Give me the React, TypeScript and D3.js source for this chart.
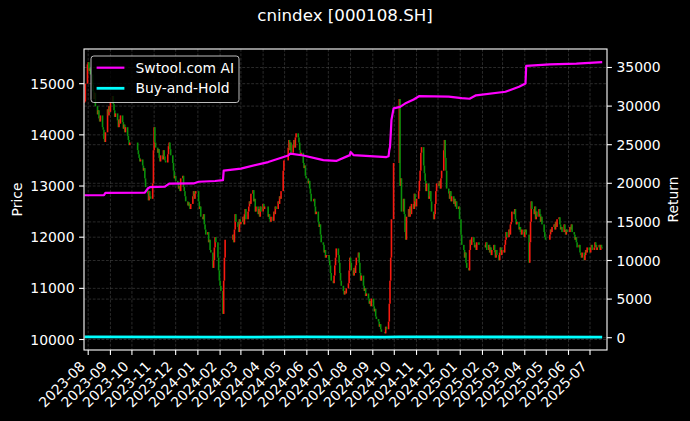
import React from 'react';
import * as d3 from 'd3';

// ---------- data ----------
const title = 'cnindex [000108.SH]';
const firstDay = '2023-07-27';
const lastDay = '2025-07-18';
const holidays = [
  '2023-09-29', '2023-10-02', '2023-10-03', '2023-10-04', '2023-10-05', '2023-10-06',
  '2024-01-01', '2024-02-09', '2024-02-12', '2024-02-13', '2024-02-14', '2024-02-15', '2024-02-16',
  '2024-04-04', '2024-04-05', '2024-05-01', '2024-05-02', '2024-05-03', '2024-06-10',
  '2024-09-16', '2024-09-17', '2024-10-01', '2024-10-02', '2024-10-03', '2024-10-04', '2024-10-07',
  '2025-01-01', '2025-01-28', '2025-01-29', '2025-01-30', '2025-01-31', '2025-02-03', '2025-02-04',
  '2025-04-04', '2025-05-01', '2025-05-02', '2025-05-05', '2025-06-02',
];

const closes2023 = [
  14650, 15000, 15380,
  15420, 15250, 15300, 15180, 14980, 14850, 14700, 14820, 14560, 14400, 14480, 14320, 14260, 14380, 14150, 14100, 13920, 13860, 14050, 14500, 14380, 14560, 14450,
  14650, 14760, 14600, 14480, 14350, 14420, 14280, 14150, 14300, 14220, 14380, 14250, 14120, 14200, 14050, 14150, 13980, 13900, 13800, 13850,
  13700, 13620, 13550, 13480, 13520, 13400, 13300, 13350, 13150, 12980, 12850, 12720, 12900, 12800, 12750, 13050, 13700,
  14150, 13850, 13750, 13650, 13720, 13550, 13480, 13600, 13520, 13700, 13580, 13500, 13460, 13620, 13780, 13850, 13720, 13600, 13450, 13300, 13150, 13200,
  13100, 13050, 12950, 13000, 12900, 13150, 13200, 12980, 12900, 12800, 12700, 12620, 12680, 12600, 12550, 12650, 12800, 12900, 12750, 12850, 12900,
];
const closes2024 = [
  12700, 12550, 12600, 12400, 12350, 12450, 12250, 12150, 12050, 12100, 11900, 11950, 11750, 11700, 11400, 11550, 11800, 12000, 11900, 11600, 11350, 11150,
  11050, 10950, 10500, 11150, 11600, 11950, 12050, 11900, 12150, 12450, 12300, 12200, 12100, 12350, 12250,
  12300, 12400, 12250, 12450, 12550, 12350, 12500, 12600, 12700, 12650, 12850, 12920, 12700, 12750, 12500, 12600, 12450, 12550, 12400, 12600, 12500,
  12650, 12550, 12600, 12400, 12450, 12350, 12300, 12400, 12320, 12500, 12450, 12600, 12550, 12700, 12650, 12800, 12750, 12900, 13300, 13500,
  13750, 13900, 13700, 13850, 13650, 13800, 13900, 13750, 13950, 14030, 13950, 13850, 13700, 13600, 13650, 13450, 13350, 13400, 13200, 13150,
  13050, 13100, 12950, 12850, 12700, 12750, 12600, 12450, 12500, 12300, 12200, 12250, 12050, 11900, 11850, 11700, 11750, 11600, 11650,
  11650, 11550, 11450, 11300, 11150, 11100, 11250, 11450, 11600, 11780, 11650, 11500, 11300, 11150, 11050, 10950, 10880, 10950, 10900, 11000, 11100, 11350, 11600,
  11500, 11350, 11250, 11400, 11300, 11450, 11600, 11700, 11500, 11300, 11150, 11250, 11050, 10950, 11000, 10850, 10900, 10800, 10700, 10750, 10650, 10800,
  10650, 10550, 10600, 10450, 10400, 10350, 10250, 10300, 10200, 10150, 10120, 10250, 10200, 10350, 10700, 11150, 11600, 12350, 13450,
  14700, 13000, 13150, 12500, 12750, 12450, 12100, 11950, 12400, 12550, 12400, 12600, 12450, 12650, 12550, 12850, 12700, 12600,
  12750, 12900, 13100, 13300, 13650, 13760, 13400, 13250, 13100, 12900, 13050, 12750, 12800, 12900, 12700, 12500, 12350, 12450, 12650, 12900, 13050,
  13000, 13100, 12950, 13150, 13300, 13700, 13900, 13550, 13300, 12950, 12850, 12750, 12900, 12700, 12800, 12650, 12750, 12600, 12700, 12550, 12600, 12350,
];
const closes2025 = [
  12050, 11850, 11750, 11600, 11700, 11500, 11400, 11350, 11750, 11950, 11850, 12000, 11900, 11800, 11850, 11750, 11900, 11850,
  11800, 11900, 11750, 11850, 11700, 11800, 11650, 11750, 11850, 11700, 11600, 11750, 11650, 11550, 11700, 11800, 11650, 11750,
  11700, 11850, 11950, 12100, 12000, 12150, 12050, 12250, 12300, 12500, 12450, 12550, 12350, 12250, 12300, 12150, 12200, 12100, 12050, 12150, 12000,
  12100, 12150, 12050, 11500, 11900, 12300, 12700, 12550, 12450, 12600, 12350, 12500, 12400, 12550, 12450, 12300, 12400, 12250, 12100, 12000, 11950,
  12050, 12150, 12100, 12200, 12250, 12150, 12300, 12200, 12350, 12390, 12250, 12150, 12200, 12100, 12250, 12150, 12050, 12150, 12100,
  12200, 12150, 12250, 12100, 12050, 11950, 12000, 11900, 11800, 11850, 11700, 11650, 11600, 11700, 11550, 11650, 11750, 11700, 11800, 11750,
  11700, 11800, 11850, 11750, 11800, 11900, 11850, 11750, 11800, 11850, 11750, 11850, 11800, 11780,
];

const strategyReturn: [string, number][] = [
  ['2023-07-27', 18450], ['2023-08-23', 18480], ['2023-08-25', 18760], ['2023-10-19', 18780],
  ['2023-10-23', 19300], ['2023-10-26', 19500], ['2023-11-16', 19560], ['2023-11-22', 19950],
  ['2023-12-26', 19980], ['2024-01-02', 20200], ['2024-01-25', 20300], ['2024-02-05', 20400],
  ['2024-02-06', 21650], ['2024-03-01', 21900], ['2024-04-08', 22750], ['2024-05-06', 23600],
  ['2024-05-09', 23850], ['2024-05-27', 23600], ['2024-06-24', 23000], ['2024-07-12', 22900],
  ['2024-07-31', 23650], ['2024-08-01', 24050], ['2024-08-05', 23650], ['2024-09-20', 23400],
  ['2024-09-23', 23500], ['2024-09-24', 24300], ['2024-09-25', 24700], ['2024-09-26', 26300],
  ['2024-09-27', 28200], ['2024-09-30', 29700], ['2024-10-09', 29900], ['2024-10-16', 30330],
  ['2024-10-28', 30850], ['2024-11-05', 31300], ['2024-12-16', 31230], ['2025-01-03', 31030],
  ['2025-01-14', 30950], ['2025-01-23', 31400], ['2025-03-05', 31860], ['2025-03-24', 32500],
  ['2025-04-02', 32930], ['2025-04-03', 35200], ['2025-05-06', 35400], ['2025-06-12', 35500],
  ['2025-07-18', 35700],
];
const buyHoldReturn: [string, number][] = [
  ['2023-07-27', 100], ['2023-08-01', 104], ['2024-02-05', 71], ['2024-05-20', 95],
  ['2024-09-18', 69], ['2024-10-08', 100], ['2025-07-18', 80],
];

const priceTicks = [10000, 11000, 12000, 13000, 14000, 15000];
const returnTicks = [0, 5000, 10000, 15000, 20000, 25000, 30000, 35000];
const monthTicks = [
  '2023-08', '2023-09', '2023-10', '2023-11', '2023-12', '2024-01', '2024-02', '2024-03',
  '2024-04', '2024-05', '2024-06', '2024-07', '2024-08', '2024-09', '2024-10', '2024-11',
  '2024-12', '2025-01', '2025-02', '2025-03', '2025-04', '2025-05', '2025-06', '2025-07',
];
const seriesNames = ['Swtool.com AI', 'Buy-and-Hold'];

// ---------- layout ----------
const W = 690;
const H = 421;
const L = 84;
const R = 607;
const T = 49;
const B = 350;
const FONT = 'DejaVu Sans, Liberation Sans, sans-serif';
const UP = '#f81a10';
const DOWN = '#0a900a';
const MAGENTA = '#ff00ff';
const CYAN = '#00ffff';

export default function App() {
  const parse = d3.timeParse('%Y-%m-%d');
  const fmt = d3.timeFormat('%Y-%m-%d');
  const hol = new Set(holidays);
  const start = parse(firstDay) as Date;
  const end = parse(lastDay) as Date;
  const days = d3.timeDay
    .range(start, d3.timeDay.offset(end, 1))
    .filter((d) => d.getDay() !== 0 && d.getDay() !== 6 && !hol.has(fmt(d)));
  const closes = [...closes2023, ...closes2024, ...closes2025];
  const n = Math.min(days.length, closes.length);

  const x = d3
    .scaleTime()
    .domain([new Date(2023, 6, 26, 3, 20), new Date(2025, 6, 24, 17, 0)])
    .range([L, R]);
  const yP = d3.scaleLinear().domain([9795, 15678]).range([B, T]);
  const yR = d3.scaleLinear().domain([-1593, 37396]).range([B, T]);

  const candles = d3.range(n).map((i) => {
    const c = closes[i];
    const o = i > 0 ? closes[i - 1] : c;
    return { d: days[i], o, c };
  });

  const line = d3
    .line<[string, number]>()
    .x((p) => x(parse(p[0]) as Date))
    .y((p) => yR(p[1]));

  const mDates = monthTicks.map((m) => parse(m + '-01') as Date);
  const cw = 1.6;

  return (
    <svg
      width={W}
      height={H}
      style={{ position: 'absolute', left: 0, top: 0, display: 'block' }}
      fontFamily={FONT}
    >
      <rect x={0} y={0} width={W} height={H} fill="#000" />
      <text x={345} y={21} fill="#fff" fontSize={16.67} textAnchor="middle">
        {title}
      </text>

      {/* grid */}
      <g stroke="#808080" strokeOpacity={0.55} strokeWidth={0.6} strokeDasharray="2.8,1.6">
        {mDates.map((d, i) => (
          <line key={'gx' + i} x1={x(d)} x2={x(d)} y1={T} y2={B} />
        ))}
        {priceTicks.map((t) => (
          <line key={'gp' + t} x1={L} x2={R} y1={yP(t)} y2={yP(t)} />
        ))}
        {returnTicks.map((t) => (
          <line key={'gr' + t} x1={L} x2={R} y1={yR(t)} y2={yR(t)} />
        ))}
      </g>

      {/* candles */}
      <g>
        {candles.map((k, i) => {
          const y1 = yP(Math.max(k.o, k.c));
          const y2 = yP(Math.min(k.o, k.c));
          return (
            <rect
              key={'c' + i}
              x={x(k.d) - cw / 2}
              y={y1}
              width={cw}
              height={Math.max(0.9, y2 - y1)}
              fill={k.c >= k.o ? UP : DOWN}
            />
          );
        })}
      </g>

      {/* return lines */}
      <path d={line(strategyReturn) || ''} fill="none" stroke={MAGENTA} strokeWidth={2.2} strokeLinejoin="round" />
      <path d={line(buyHoldReturn) || ''} fill="none" stroke={CYAN} strokeWidth={2.8} strokeLinejoin="round" />

      {/* frame */}
      <rect x={L} y={T} width={R - L} height={B - T} fill="none" stroke="#fff" strokeWidth={1.1} />

      {/* left axis */}
      <g fill="#fff" fontSize={13.9}>
        {priceTicks.map((t) => (
          <g key={'lp' + t}>
            <line x1={L - 4.9} x2={L} y1={yP(t)} y2={yP(t)} stroke="#fff" strokeWidth={1.1} />
            <text x={L - 9.5} y={yP(t)} textAnchor="end" dominantBaseline="central">
              {t}
            </text>
          </g>
        ))}
        <text x={17} y={(T + B) / 2} transform={`rotate(-90 17 ${(T + B) / 2})`} textAnchor="middle" dominantBaseline="central">
          Price
        </text>
      </g>

      {/* right axis */}
      <g fill="#fff" fontSize={13.9}>
        {returnTicks.map((t) => (
          <g key={'rr' + t}>
            <line x1={R} x2={R + 4.9} y1={yR(t)} y2={yR(t)} stroke="#fff" strokeWidth={1.1} />
            <text x={R + 9.5} y={yR(t)} textAnchor="start" dominantBaseline="central">
              {t}
            </text>
          </g>
        ))}
        <text x={673} y={(T + B) / 2} transform={`rotate(-90 673 ${(T + B) / 2})`} textAnchor="middle" dominantBaseline="central">
          Return
        </text>
      </g>

      {/* bottom axis */}
      <g fill="#fff" fontSize={13.9}>
        {mDates.map((d, i) => {
          const tx = x(d);
          const ax = tx - 2.3;
          const ay = 367.2;
          return (
            <g key={'bx' + i}>
              <line x1={tx} x2={tx} y1={B} y2={B + 4.9} stroke="#fff" strokeWidth={1.1} />
              <text x={ax} y={ay} textAnchor="end" transform={`rotate(-45 ${ax} ${ay})`}>
                {monthTicks[i]}
              </text>
            </g>
          );
        })}
      </g>

      {/* legend */}
      <g>
        <rect x={91} y={56} width={148} height={46.5} rx={2.8} fill="#000" fillOpacity={0.8} stroke="#d0d0d0" strokeOpacity={0.9} strokeWidth={1} />
        <line x1={96.6} x2={124.4} y1={67.7} y2={67.7} stroke={MAGENTA} strokeWidth={2.2} />
        <line x1={96.6} x2={124.4} y1={88.3} y2={88.3} stroke={CYAN} strokeWidth={2.8} />
        <text x={135.5} y={67.7} fill="#fff" fontSize={13.9} dominantBaseline="central">
          {seriesNames[0]}
        </text>
        <text x={135.5} y={88.3} fill="#fff" fontSize={13.9} dominantBaseline="central">
          {seriesNames[1]}
        </text>
      </g>
    </svg>
  );
}
